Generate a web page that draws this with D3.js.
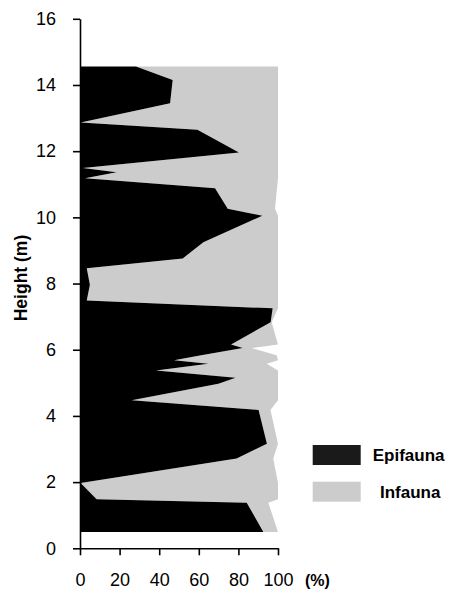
<!DOCTYPE html>
<html>
<head>
<meta charset="utf-8">
<script src="https://cdn.jsdelivr.net/npm/d3@7"></script>
<style>
  html, body { margin: 0; padding: 0; background: #fff; }
  svg { display: block; font-family: "Liberation Sans", Arial, sans-serif; }
</style>
</head>
<body>
<svg id="chart" width="454" height="591"></svg>
<script>
// Sample heights (m)
const heights = [0.49, 1.38, 1.48, 1.97, 2.71, 3.16, 4.18, 4.47, 4.97, 5.15, 5.37, 5.58, 5.68, 5.83, 6.05, 6.16, 6.83, 7.25, 7.49, 7.96, 8.46, 8.76, 9.25, 10.05, 10.26, 10.88, 11.18, 11.36, 11.49, 11.96, 12.65, 12.87, 13.45, 14.15, 14.56];
// Epifauna percentage at each height
const epifauna = [92.6, 84.2, 8.4, 0.3, 79.1, 94.4, 90.2, 26.1, 69.9, 78.6, 38.4, 64.8, 47.5, 61.2, 82.2, 76.3, 96.3, 97.3, 3.4, 5.0, 3.4, 51.9, 62.3, 92.1, 74.6, 68.2, 2.5, 18.5, 1.4, 80.3, 59.3, 0.3, 45.5, 46.8, 28.3];
// Infauna percentage at each height
const infauna = [7.4, 10.9, 91.6, 99.7, 18.5, 5.6, 6.0, 73.9, 30.1, 21.4, 61.6, 29.5, 52.5, 38.1, 4.5, 23.7, 0.5, 2.7, 96.6, 95.0, 96.6, 48.1, 37.7, 7.9, 23.9, 31.3, 97.5, 81.5, 98.6, 19.7, 40.7, 99.7, 54.5, 53.2, 71.7];

const seriesNames = ["Epifauna", "Infauna"];
const seriesColors = ["#000000", "#cccccc"];
const legendColors = ["#1a1a1a", "#cccccc"];
const xTicks = [0, 20, 40, 60, 80, 100];
const yTicks = [0, 2, 4, 6, 8, 10, 12, 14, 16];

const rows = heights.map((h, i) => ({ h: h, Epifauna: epifauna[i], Infauna: infauna[i] }));
const stacked = d3.stack().keys(seriesNames)(rows);

const svg = d3.select("#chart");
const x = d3.scaleLinear().domain([0, 100]).range([80, 278]);
const y = d3.scaleLinear().domain([0, 16]).range([548.3, 18.8]);

const area = d3.area()
  .y(d => y(d.data.h))
  .x0(d => x(d[0]))
  .x1(d => x(d[1]))
  .curve(d3.curveLinear);

// Draw infauna first, then epifauna on top
svg.append("g").selectAll("path")
  .data(stacked.slice().reverse())
  .join("path")
  .attr("d", area)
  .attr("fill", d => seriesColors[seriesNames.indexOf(d.key)]);

// Y axis
const yAxis = svg.append("g")
  .attr("transform", "translate(80,0)")
  .call(d3.axisLeft(y).tickValues(yTicks).tickSize(7).tickSizeOuter(0).tickPadding(17));
// X axis
const xAxis = svg.append("g")
  .attr("transform", `translate(0,${y(0)})`)
  .call(d3.axisBottom(x).tickValues(xTicks).tickSize(7).tickSizeOuter(0).tickPadding(18));

[yAxis, xAxis].forEach(g => {
  g.selectAll("path.domain").attr("stroke", "#000").attr("stroke-width", 1.6);
  g.selectAll(".tick line").attr("stroke", "#000").attr("stroke-width", 1.6);
  g.selectAll(".tick text").attr("fill", "#000").attr("font-size", 18)
    .attr("font-family", "'Liberation Sans', Arial, sans-serif");
});

// Axis titles
svg.append("text")
  .attr("transform", "translate(27,278) rotate(-90)")
  .attr("text-anchor", "middle")
  .attr("font-weight", "bold")
  .attr("font-size", 17.5)
  .text("Height (m)");

svg.append("text")
  .attr("x", 305)
  .attr("y", 586)
  .attr("font-weight", "bold")
  .attr("font-size", 16)
  .text("(%)");

// Legend
const legend = svg.append("g");
const legendY = [445, 481.7];
const legendTextX = [372.7, 380];
seriesNames.forEach((name, i) => {
  legend.append("rect")
    .attr("x", 312.7).attr("y", legendY[i])
    .attr("width", 48).attr("height", 20)
    .attr("fill", legendColors[i]);
  legend.append("text")
    .attr("x", legendTextX[i]).attr("y", legendY[i] + 10)
    .attr("dy", "0.35em")
    .attr("font-weight", "bold")
    .attr("font-size", 17)
    .text(name);
});
</script>
</body>
</html>
